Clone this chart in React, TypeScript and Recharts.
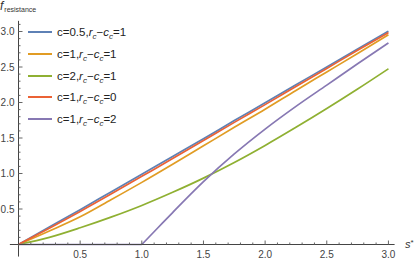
import React from 'react';
import { LineChart, Line, XAxis, YAxis, ReferenceLine } from 'recharts';

// values
const sValues = [0, 0.25, 0.5, 0.75, 1, 1.25, 1.5, 1.75, 2, 2.25, 2.5, 2.75, 3];
const blueValues = [0, 0.245, 0.49, 0.74, 0.99, 1.24, 1.49, 1.745, 1.995, 2.25, 2.5, 2.755, 3.005];
const orangeValues = [0, 0.19, 0.39, 0.63, 0.875, 1.13, 1.39, 1.65, 1.905, 2.17, 2.43, 2.69, 2.955];
const greenValues = [0, 0.1, 0.235, 0.385, 0.55, 0.735, 0.935, 1.155, 1.395, 1.65, 1.915, 2.19, 2.475];
const redValues = [0, 0.23, 0.465, 0.71, 0.96, 1.21, 1.465, 1.72, 1.97, 2.225, 2.48, 2.735, 2.985];
// purple is zero up to s=1, then rises
const purpleFlatS = [0, 0.5, 1];
const purpleFlatValues = [0, 0, 0];
const purpleS = [1, 1.125, 1.25, 1.5, 1.75, 2, 2.25, 2.5, 2.75, 3];
const purpleValues = [0, 0.225, 0.45, 0.885, 1.275, 1.625, 1.945, 2.245, 2.545, 2.84];

const xMajorTicks = [0.5, 1, 1.5, 2, 2.5, 3];
const yMajorTicks = [0.5, 1, 1.5, 2, 2.5, 3];

const legendC = ['0.5', '1', '2', '1', '1'];
const legendDiff = ['1', '1', '1', '0', '2'];
const colors = ['#5E81B5', '#E19C24', '#8FB032', '#EB6235', '#8778B3'];

const xTicks = Array.from({ length: 30 }, (_, i) => (i + 1) / 10);
const yTicks = Array.from({ length: 31 }, (_, i) => (i + 1) / 10);

const toPoints = (xs: number[], ys: number[]) => xs.map((s, i) => ({ s, f: ys[i] }));

const series = [
  { key: 'blue', data: toPoints(sValues, blueValues), color: colors[0], type: 'monotone' },
  { key: 'orange', data: toPoints(sValues, orangeValues), color: colors[1], type: 'monotone' },
  { key: 'green', data: toPoints(sValues, greenValues), color: colors[2], type: 'monotone' },
  { key: 'red', data: toPoints(sValues, redValues), color: colors[3], type: 'monotone' },
  { key: 'purple-flat', data: toPoints(purpleFlatS, purpleFlatValues), color: colors[4], type: 'linear' },
  { key: 'purple', data: toPoints(purpleS, purpleValues), color: colors[4], type: 'monotone' },
];

const isMajor = (list: number[], v: number) => list.some((m) => Math.abs(m - v) < 1e-6);

const font = '"Liberation Sans", Arial, sans-serif';

const XTick = (props: any) => {
  const { x, y, payload } = props;
  const v = payload.value;
  const major = isMajor(xMajorTicks, v);
  return (
    <g>
      <line x1={x} x2={x} y1={y} y2={y - (major ? 4 : 2)} stroke="#666" />
      {major && (
        <text x={x} y={y + 13.5} textAnchor="middle" fontSize={10} fill="#444" fontFamily={font}>
          {v.toFixed(1)}
        </text>
      )}
    </g>
  );
};

const YTick = (props: any) => {
  const { x, y, payload } = props;
  const v = payload.value;
  const major = isMajor(yMajorTicks, v);
  return (
    <g>
      <line x1={x} x2={x + (major ? 4 : 2)} y1={y} y2={y} stroke="#666" />
      {major && (
        <text x={x - 4} y={y + 3.6} textAnchor="end" fontSize={10} fill="#444" fontFamily={font}>
          {v.toFixed(1)}
        </text>
      )}
    </g>
  );
};

const YTitle = () => (
  <text x={0} y={10} fontFamily={font} fill="#333">
    <tspan fontStyle="italic" fontSize={12}>f</tspan>
    <tspan fontSize={7} dx={1} dy={1.5}>resistance</tspan>
  </text>
);

const XTitle = () => (
  <text x={405} y={247.5} fontFamily={font} fill="#333">
    <tspan fontStyle="italic" fontSize={11}>s</tspan>
    <tspan fontSize={8} dy={-3}>*</tspan>
  </text>
);

const Legend = () => (
  <div style={{ position: 'absolute', left: 0, top: 0, fontFamily: font, fontSize: 11.5, color: '#222' }}>
    {legendC.map((c, i) => (
      <div
        key={i}
        style={{ position: 'absolute', top: 22 + i * 21.8, left: 28, height: 20, width: 140, whiteSpace: 'nowrap' }}
      >
        <div
          style={{ position: 'absolute', left: 0, top: 9, width: 24, height: 2, background: colors[i] }}
        />
        <div style={{ position: 'absolute', left: 29, top: 0, lineHeight: '20px' }}>
          c={c},<i>r</i>
          <sub style={{ fontSize: 8 }}><i>c</i></sub>−<i>c</i>
          <sub style={{ fontSize: 8 }}><i>c</i></sub>={legendDiff[i]}
        </div>
      </div>
    ))}
  </div>
);

export default function App() {
  return (
    <div style={{ position: 'absolute', left: 0, top: 0, width: 415, height: 260, background: '#fff' }}>
      <LineChart width={415} height={260} margin={{ top: 20.85, right: 20.4, bottom: 0, left: 0 }}>
        <XAxis
          type="number"
          dataKey="s"
          domain={[0, 3.05]}
          ticks={xTicks}
          interval={0}
          tickSize={0}
          tickMargin={0}
          height={15.5}
          tick={<XTick />}
          axisLine={{ stroke: '#444' }}
          allowDuplicatedCategory={false}
          label={<XTitle />}
        />
        <YAxis
          type="number"
          domain={[0, 3.15]}
          ticks={yTicks}
          interval={0}
          tickSize={0}
          tickMargin={0}
          width={18.5}
          tick={<YTick />}
          axisLine={{ stroke: '#444' }}
          label={<YTitle />}
        />
        <ReferenceLine segment={[{ x: -0.07, y: 0 }, { x: 0, y: 0 }]} stroke="#444" ifOverflow="visible" />
        <ReferenceLine segment={[{ x: 0, y: -0.17 }, { x: 0, y: 0 }]} stroke="#444" ifOverflow="visible" />
        {series.map((sr) => (
          <Line
            key={sr.key}
            data={sr.data}
            dataKey="f"
            type={sr.type as any}
            stroke={sr.color}
            strokeWidth={1.7}
            dot={false}
            isAnimationActive={false}
          />
        ))}
      </LineChart>
      <Legend />
    </div>
  );
}
